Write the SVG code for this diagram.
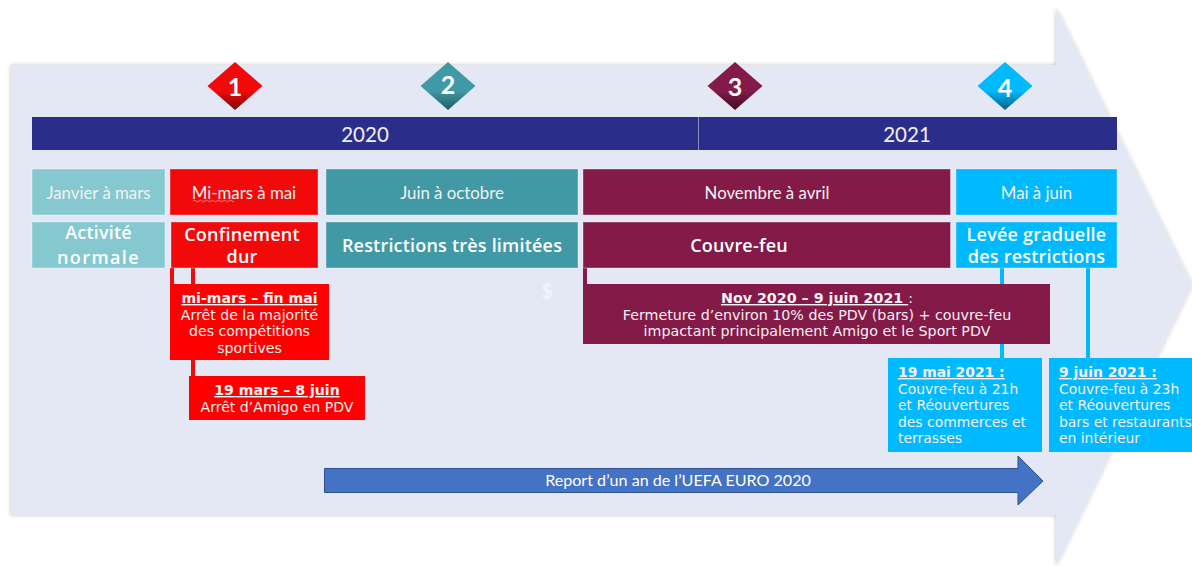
<svg xmlns="http://www.w3.org/2000/svg" width="1192" height="566" viewBox="0 0 1192 566">
<style>
text{fill:#fff;text-anchor:middle}
.y{font:20.5px Lato,"Liberation Sans",sans-serif;fill:#f0f0f6}
.p{font:16.8px Lato,"Liberation Sans",sans-serif;fill:#f2f2f2}
.h{font:600 18px "Open Sans","Liberation Sans",sans-serif;letter-spacing:.2px}
.n{font:700 25px Lato,"Liberation Sans",sans-serif}
.d{font:14.1px "DejaVu Sans",sans-serif;fill:#f6f0f2}
.w{font-size:14.25px}
.b{font-weight:700;text-decoration:underline}
.l{text-anchor:start;font-size:13.9px}
.e{stroke:#fff;stroke-opacity:.35;stroke-width:1}
</style>
<defs>
<filter id="s" x="-3%" y="-3%" width="106%" height="106%"><feDropShadow dx="0" dy="0" stdDeviation="2" flood-color="#000" flood-opacity=".25"/></filter>
<linearGradient id="g1" x1="0" y1="0" x2="0" y2="1"><stop offset=".6" stop-color="#F20A0A"/><stop offset="1" stop-color="#7d0505"/></linearGradient>
<linearGradient id="g2" x1="0" y1="0" x2="0" y2="1"><stop offset=".6" stop-color="#4199A5"/><stop offset="1" stop-color="#1f5a63"/></linearGradient>
<linearGradient id="g3" x1="0" y1="0" x2="0" y2="1"><stop offset=".6" stop-color="#831A48"/><stop offset="1" stop-color="#430b23"/></linearGradient>
<linearGradient id="g4" x1="0" y1="0" x2="0" y2="1"><stop offset=".6" stop-color="#00B9FF"/><stop offset="1" stop-color="#005f85"/></linearGradient>
</defs>

<g id="big-arrow"><polygon points="11,65 1056,65 1056,8 1192,285 1056,566 1056,515 11,515" fill="#E4E8F5" filter="url(#s)"/></g>

<g id="connectors">
<rect x="170" y="268" width="4" height="16" fill="#F20A0A"/>
<rect x="191" y="268" width="4" height="16" fill="#F20A0A"/>
<rect x="191" y="360" width="4" height="16" fill="#F20A0A"/>
<rect x="583" y="268" width="4" height="16" fill="#831A48"/>
<rect x="1000" y="268" width="4" height="16" fill="#00B9FF"/>
<rect x="1000" y="344" width="4" height="14" fill="#00B9FF"/>
<rect x="1086" y="268" width="4" height="90" fill="#00B9FF"/>
</g>

<g id="marker-1"><polygon points="235,62 262.500,86 235,110 207.500,86" fill="url(#g1)"/><text class="n" x="235" y="96">1</text></g>
<g id="marker-2"><polygon points="448,62 475.500,86 448,110 420.500,86" fill="url(#g2)"/><text class="n" x="448" y="94">2</text></g>
<g id="marker-3"><polygon points="735,62 762.500,86 735,110 707.500,86" fill="url(#g3)"/><text class="n" x="735" y="96">3</text></g>
<g id="marker-4"><polygon points="1005,62 1032.500,86 1005,110 977.500,86" fill="url(#g4)"/><text class="n" x="1005" y="97">4</text></g>

<g id="year-2020"><rect x="32" y="117" width="666.500" height="33" fill="#2A2E8A"/><text class="y" x="365" y="141.500">2020</text></g>
<g id="year-2021"><rect x="699" y="117" width="418" height="33" fill="#2A2E8A"/><text class="y" x="907" y="141.500">2021</text></g>

<g id="period-1"><rect class="e" x="32" y="169" width="133" height="46" fill="#86C8D0"/><text class="p" x="98.500" y="199">Janvier à mars</text></g>
<g id="period-2"><rect class="e" x="170" y="169" width="148" height="46" fill="#F20A0A"/><text class="p" x="244" y="199">Mi-mars à mai</text><path d="M193 201q1.500-1.500 3 0t3 0 3 0 3 0 3 0 3 0 3 0 3 0 3 0 3 0 3 0 3 0 3 0 2 0" fill="none" stroke="#e8a0a0" stroke-width=".8"/></g>
<g id="period-3"><rect class="e" x="326" y="169" width="252" height="46" fill="#4199A5"/><text class="p" x="452" y="199">Juin à octobre</text></g>
<g id="period-4"><rect class="e" x="583" y="169" width="367.500" height="46" fill="#831A48"/><text class="p" x="767" y="199">Novembre à avril</text></g>
<g id="period-5"><rect class="e" x="956" y="169" width="161" height="46" fill="#00B9FF"/><text class="p" x="1036.500" y="199">Mai à juin</text></g>

<g id="phase-1"><rect class="e" x="32" y="222" width="133" height="46" fill="#86C8D0"/><text class="h" x="98.500" y="239">Activité</text><text class="h" x="98.500" y="264" style="letter-spacing:1.4px">normale</text></g>
<g id="phase-2"><rect class="e" x="171" y="222" width="147" height="46" fill="#F20A0A"/><text class="h" x="242" y="241">Confinement</text><text class="h" x="242" y="263">dur</text></g>
<g id="phase-3"><rect class="e" x="326" y="222" width="252" height="46" fill="#4199A5"/><text class="h" x="452" y="252">Restrictions très limitées</text></g>
<g id="phase-4"><rect class="e" x="583" y="222" width="367.500" height="46" fill="#831A48"/><text class="h" x="739" y="252">Couvre-feu</text></g>
<g id="phase-5"><rect class="e" x="956" y="222" width="161" height="46" fill="#00B9FF"/><text class="h" x="1036.500" y="241">Levée graduelle</text><text class="h" x="1036.500" y="263">des restrictions</text></g>

<text x="547" y="298" style="font:20px Lato,sans-serif;fill:#f4f6fb">$</text>

<g id="note-red-1"><rect x="170" y="284" width="159" height="76" fill="#F00"/>
<text class="d" x="249.500" y="303"><tspan class="b">mi-mars – fin mai</tspan></text>
<text class="d" x="249.500" y="320">Arrêt de la majorité</text>
<text class="d" x="249.500" y="336">des compétitions</text>
<text class="d" x="249.500" y="353">sportives</text></g>
<g id="note-red-2"><rect x="189" y="376" width="176" height="44" fill="#F00"/>
<text class="d" x="277" y="395"><tspan class="b">19 mars – 8 juin</tspan></text>
<text class="d" x="277" y="412">Arrêt d’Amigo en PDV</text></g>
<g id="note-maroon"><rect x="583" y="284" width="467" height="60" fill="#831A48"/>
<text class="d w" x="817" y="303"><tspan class="b">Nov 2020 – 9 juin 2021 </tspan>:</text>
<text class="d w" x="817" y="320">Fermeture d’environ 10% des PDV (bars) + couvre-feu</text>
<text class="d w" x="817" y="336">impactant principalement Amigo et le Sport PDV</text></g>
<g id="note-blue-1"><rect x="888" y="358" width="154" height="94" fill="#00B9FF"/>
<text class="d l" x="898" y="377"><tspan class="b">19 mai 2021 :</tspan></text>
<text class="d l" x="898" y="394">Couvre-feu à 21h</text>
<text class="d l" x="898" y="410">et Réouvertures</text>
<text class="d l" x="898" y="427">des commerces et</text>
<text class="d l" x="898" y="443">terrasses</text></g>
<g id="note-blue-2"><rect x="1049" y="358" width="143" height="94" fill="#00B9FF"/>
<text class="d l" x="1059" y="377"><tspan class="b">9 juin 2021 :</tspan></text>
<text class="d l" x="1059" y="394">Couvre-feu à 23h</text>
<text class="d l" x="1059" y="410">et Réouvertures</text>
<text class="d l" x="1059" y="427">bars et restaurants</text>
<text class="d l" x="1059" y="443">en intérieur</text></g>

<g id="euro-arrow"><polygon points="324.500,468.500 1018,468.500 1018,456 1043,481 1018,505 1018,492.500 324.500,492.500" fill="#4472C4" stroke="#2F528F"/>
<text x="678" y="486" style="font:16.1px Lato,'Liberation Sans',sans-serif">Report d’un an de l’UEFA EURO 2020</text></g>
</svg>
